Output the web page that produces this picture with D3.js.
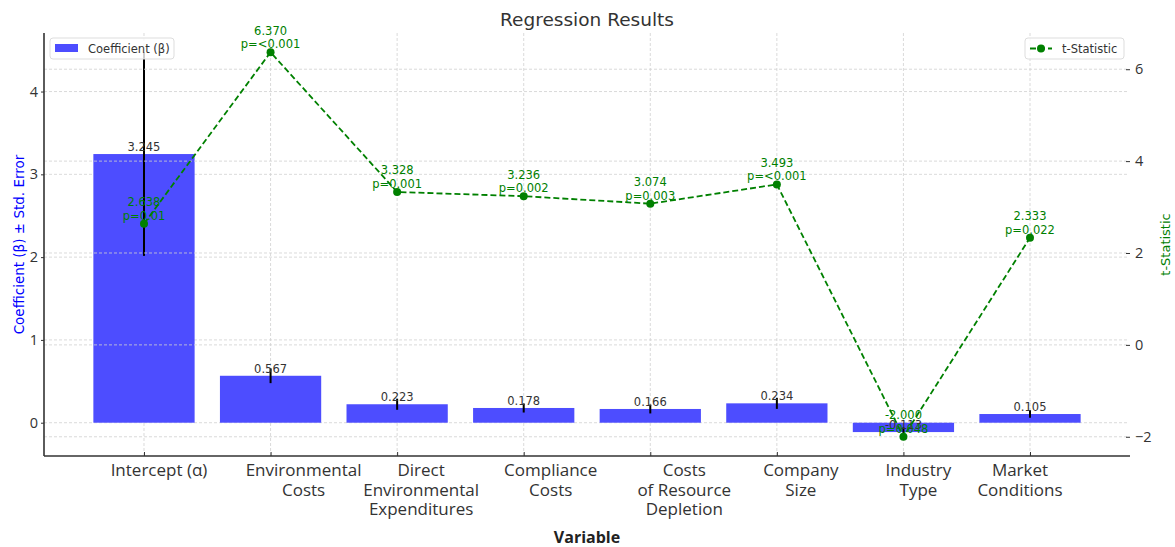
<!DOCTYPE html>
<html>
<head>
<meta charset="utf-8">
<script src="https://cdn.jsdelivr.net/npm/d3@7"></script>
<style>
  body { margin: 0; background: #fff; }
  svg { display: block; }
</style>
</head>
<body>
<div id="chart"></div>
<script>
// data
const variables = ["Intercept (α)", "Environmental\nCosts", "Direct\nEnvironmental\nExpenditures",
  "Compliance\nCosts", "Costs\nof Resource\nDepletion", "Company\nSize", "Industry\nType", "Market\nConditions"];
const coefficients = [3.245, 0.567, 0.223, 0.178, 0.166, 0.234, -0.113, 0.105];
const stdErrors = [1.230, 0.089, 0.067, 0.055, 0.054, 0.067, 0.057, 0.045];
const tStats = [2.638, 6.370, 3.328, 3.236, 3.074, 3.493, -2.000, 2.333];
const pLabels = ["0.01", "<0.001", "0.001", "0.002", "0.003", "<0.001", "0.048", "0.022"];
const leftTicks = [0, 1, 2, 3, 4];
const rightTicks = [-2, 0, 2, 4, 6];

// layout
const width = 1175, height = 547;
const plotL = 44, plotR = 1130, plotT = 33, plotB = 456;
const labelNudge = [15, 33, 24, 27, 34, 24, 15, -10]; // tick label offsets seen in the reference
const barColor = "#4d4dff", lineColor = "#008000", textColor = "#333";
const tickFont = "'Open Sans', sans-serif", annFont = "'DejaVu Sans', sans-serif";

const svg = d3.select("#chart").append("svg")
  .attr("width", width).attr("height", height);

const x = d3.scalePoint().domain(d3.range(variables.length)).range([plotL, plotR]).padding(0.79);
const bw = x.step() * 0.8;
const yL = d3.scaleLinear().domain([-0.402, 4.707]).range([plotB, plotT]);
const yR = d3.scaleLinear().domain([-2.4185, 6.7885]).range([plotB, plotT]);

function hgrid(scale, ticks) {
  svg.append("g").selectAll("line").data(ticks).join("line")
    .attr("x1", plotL).attr("x2", plotR - 3)
    .attr("y1", d => scale(d)).attr("y2", d => scale(d))
    .attr("stroke", "#d0d0d0").attr("stroke-width", 0.8).attr("stroke-dasharray", "3,2");
}

// left axis grid + vertical grid
hgrid(yL, leftTicks);
svg.append("g").selectAll("line").data(d3.range(variables.length)).join("line")
  .attr("x1", d => x(d)).attr("x2", d => x(d))
  .attr("y1", plotT).attr("y2", plotB)
  .attr("stroke", "#d0d0d0").attr("stroke-width", 0.8).attr("stroke-dasharray", "3,2");

// bars
svg.append("g").selectAll("rect").data(coefficients).join("rect")
  .attr("x", (d, i) => x(i) - bw / 2)
  .attr("width", bw)
  .attr("y", d => yL(Math.max(d, 0)))
  .attr("height", d => Math.abs(yL(d) - yL(0)))
  .attr("fill", barColor);

// error bars
svg.append("g").selectAll("line").data(coefficients).join("line")
  .attr("x1", (d, i) => x(i)).attr("x2", (d, i) => x(i))
  .attr("y1", (d, i) => yL(d - stdErrors[i]))
  .attr("y2", (d, i) => yL(d + stdErrors[i]))
  .attr("stroke", "#000").attr("stroke-width", 2);

// bar value labels
svg.append("g").selectAll("text").data(coefficients).join("text")
  .attr("x", (d, i) => x(i))
  .attr("y", d => yL(d) - 3)
  .attr("text-anchor", "middle")
  .attr("font-family", annFont).attr("font-size", 11.5)
  .attr("fill", textColor)
  .text(d => d.toFixed(3));

// left legend (belongs to the bar axes, sits under the line)
const lg = svg.append("g").attr("transform", "translate(50,38)");
lg.append("rect").attr("width", 124).attr("height", 21).attr("rx", 3)
  .attr("fill", "#fff").attr("fill-opacity", 0.8).attr("stroke", "#ddd");
lg.append("rect").attr("x", 5).attr("y", 6).attr("width", 23).attr("height", 8).attr("fill", barColor);
lg.append("text").attr("x", 38).attr("y", 15)
  .attr("font-family", annFont).attr("font-size", 11.5).attr("fill", textColor)
  .text("Coefficient (β)");

// right axis grid
hgrid(yR, rightTicks);

// spines
svg.append("line").attr("x1", plotL).attr("x2", plotL).attr("y1", plotT).attr("y2", plotB)
  .attr("stroke", "#333").attr("stroke-width", 1.6);
svg.append("line").attr("x1", plotL).attr("x2", plotR).attr("y1", plotB).attr("y2", plotB)
  .attr("stroke", "#333").attr("stroke-width", 1.6);

// left ticks
const axL = svg.append("g").attr("transform", `translate(${plotL},0)`)
  .call(d3.axisLeft(yL).tickValues(leftTicks).tickSize(3).tickPadding(3).tickFormat(d3.format("d")));
axL.select(".domain").remove();
axL.selectAll("line").attr("stroke", "#333");
axL.selectAll("text").attr("font-family", tickFont).attr("font-size", 14.5).attr("fill", textColor);

// right ticks
const axR = svg.append("g").attr("transform", `translate(${plotR},0)`)
  .call(d3.axisRight(yR).tickValues(rightTicks).tickSize(-4).tickPadding(5).tickFormat(d3.format("d")));
axR.select(".domain").remove();
axR.selectAll("line").attr("stroke", "#333");
axR.selectAll("text").attr("font-family", tickFont).attr("font-size", 14.5).attr("fill", textColor);

// bottom ticks + multi-line labels
const axB = svg.append("g").attr("transform", `translate(0,${plotB})`)
  .call(d3.axisBottom(x).tickSize(-4).tickFormat(""));
axB.select(".domain").remove();
axB.selectAll("line").attr("stroke", "#333");

const xl = svg.append("g").selectAll("text").data(variables).join("text")
  .attr("text-anchor", "middle")
  .attr("font-family", tickFont).attr("font-size", 17).attr("fill", textColor);
xl.each(function (d, i) {
  const t = d3.select(this);
  d.split("\n").forEach((line, j) => {
    t.append("tspan").attr("x", x(i) + labelNudge[i]).attr("y", 476 + j * 19.5).text(line);
  });
});

// t-statistic line
const line = d3.line().x((d, i) => x(i)).y(d => yR(d));
svg.append("path").datum(tStats)
  .attr("d", line)
  .attr("fill", "none").attr("stroke", lineColor)
  .attr("stroke-width", 1.8).attr("stroke-dasharray", "6,3");
svg.append("g").selectAll("circle").data(tStats).join("circle")
  .attr("cx", (d, i) => x(i)).attr("cy", d => yR(d)).attr("r", 4)
  .attr("fill", lineColor);

// t-statistic annotations
const ann = svg.append("g").selectAll("text").data(tStats).join("text")
  .attr("text-anchor", "middle")
  .attr("font-family", annFont).attr("font-size", 11.5).attr("fill", lineColor);
ann.each(function (d, i) {
  const t = d3.select(this);
  const py = yR(d);
  t.append("tspan").attr("x", x(i)).attr("y", py - 17.5).text(d.toFixed(3));
  t.append("tspan").attr("x", x(i)).attr("y", py - 4).text("p=" + pLabels[i]);
});

// right legend
const rg = svg.append("g").attr("transform", "translate(1025,38)");
rg.append("rect").attr("width", 99).attr("height", 21).attr("rx", 3)
  .attr("fill", "#fff").attr("fill-opacity", 0.8).attr("stroke", "#ddd");
rg.append("line").attr("x1", 5).attr("x2", 27).attr("y1", 10.5).attr("y2", 10.5)
  .attr("stroke", lineColor).attr("stroke-width", 1.8).attr("stroke-dasharray", "6,3");
rg.append("circle").attr("cx", 16).attr("cy", 10.5).attr("r", 4).attr("fill", lineColor);
rg.append("text").attr("x", 37).attr("y", 15)
  .attr("font-family", annFont).attr("font-size", 11.5).attr("fill", textColor)
  .text("t-Statistic");

// titles
svg.append("text").attr("x", (plotL + plotR) / 2).attr("y", 26)
  .attr("text-anchor", "middle").attr("font-family", annFont).attr("font-size", 18.5)
  .attr("fill", textColor).text("Regression Results");
svg.append("text").attr("x", (plotL + plotR) / 2).attr("y", 543)
  .attr("text-anchor", "middle").attr("font-family", tickFont).attr("font-size", 16)
  .attr("font-weight", "bold").attr("fill", "#222").text("Variable");
svg.append("text").attr("transform", `translate(24,${(plotT + plotB) / 2}) rotate(-90)`)
  .attr("text-anchor", "middle").attr("font-family", annFont).attr("font-size", 13.5)
  .attr("fill", "#0000ff").text("Coefficient (β) ± Std. Error");
svg.append("text").attr("transform", `translate(1170,${(plotT + plotB) / 2}) rotate(-90)`)
  .attr("text-anchor", "middle").attr("font-family", annFont).attr("font-size", 13)
  .attr("fill", lineColor).text("t-Statistic");
</script>
</body>
</html>
